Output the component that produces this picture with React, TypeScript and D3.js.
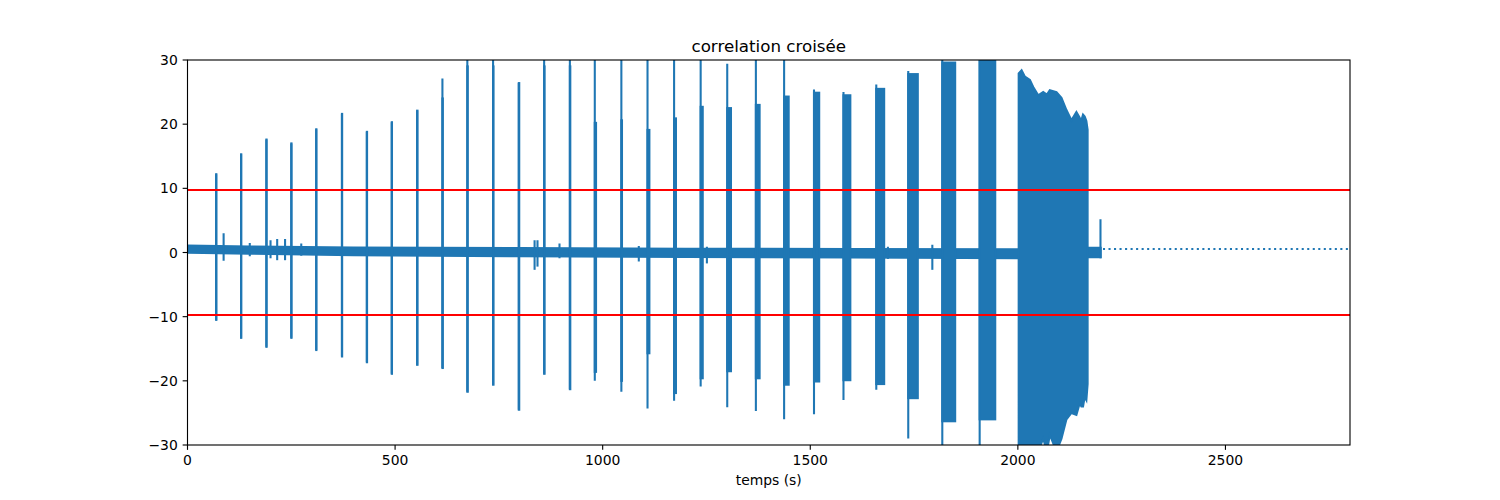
import React, { useEffect, useRef } from 'react';
import * as d3 from 'd3';

// burst events (seconds)
const burstStart = [69, 129, 190, 250, 310, 372, 432, 492, 553, 614, 674, 736, 798, 859, 921,
  981, 1045, 1108, 1172, 1236, 1300, 1369, 1437, 1509, 1580, 1659, 1736, 1818, 1908];
const burstLength = [0.5, 0.5, 0.5, 0.5, 0.5, 0.5, 0.5, 0.5, 1, 1, 1, 1, 1, 1, 1,
  3, 1.5, 4.5, 4.5, 5, 9, 9, 11, 12.5, 16.5, 19, 23, 31, 37.5];
const burstHigh = [12.2, 15.3, 17.6, 17.0, 19.2, 21.6, 18.8, 20.3, 22.1, 27.1, 31, 31, 26.4, 31, 31,
  31, 31, 31, 31, 31, 29.4, 31, 31, 25.4, 25.0, 26.2, 28.3, 31, 31];
const burstLow = [-10.5, -13.3, -14.7, -13.3, -15.2, -16.2, -17.1, -18.9, -17.5, -18.0, -21.7, -20.6, -24.5, -18.9, -21.3,
  -20.0, -21.7, -24.3, -23.1, -20.9, -24.1, -24.7, -26.0, -25.2, -23.0, -21.4, -29.0, -31, -31];
const coreHigh = [12.2, 15.3, 17.6, 17.0, 19.2, 21.6, 18.8, 20.3, 22.1, 24.0, 29.0, 29.0, 26.4, 29.0, 29.0,
  20.2, 20.6, 19.1, 20.9, 22.7, 22.5, 23.0, 24.3, 24.9, 24.5, 25.5, 27.8, 29.6, 31];
const coreLow = [-10.5, -13.3, -14.7, -13.3, -15.2, -16.2, -17.1, -18.9, -17.5, -18.0, -21.7, -20.6, -24.5, -18.9, -21.3,
  -18.6, -20.0, -15.7, -21.9, -19.6, -18.5, -19.6, -20.6, -20.1, -19.9, -20.5, -22.7, -26.3, -26.0];

// dense block near the end
const blockT = [2002, 2009, 2017, 2029, 2037, 2049, 2061, 2070, 2077, 2093, 2105, 2117, 2129, 2141, 2149, 2153, 2157, 2161, 2165, 2168];
const blockHigh = [27.9, 28.4, 27.4, 26.9, 25.8, 24.5, 25.0, 24.6, 25.3, 25.0, 24.1, 22.2, 20.6, 21.9, 21.0, 20.6, 21.5, 21.2, 20.5, 19.1];
const blockLow = [-31, -31, -31, -31, -31, -31, -29, -31, -28.4, -31, -29, -26, -25, -25.3, -23.5, -24, -24, -22.5, -23, -20.5];

// background noise envelope
const baseT = [0, 150, 400, 800, 1200, 1600, 2000, 2170, 2202];
const baseHigh = [1.25, 1.1, 0.95, 0.85, 0.75, 0.7, 0.65, 0.9, 0.9];
const baseLow = [-0.2, -0.35, -0.6, -0.75, -0.85, -0.95, -1.05, -0.9, -0.9];

// small glitches on the noise
const glitchT = [87, 150, 200, 216, 235, 274, 836, 843, 896, 1087, 1251, 1687, 1794, 2199];
const glitchHigh = [3.0, 1.5, 1.9, 2.1, 2.1, 1.4, 1.9, 1.9, 1.4, 1.0, 0.9, 0.9, 1.2, 5.2];
const glitchLow = [-1.3, -0.6, -0.9, -1.2, -1.2, -0.5, -2.7, -2.2, -0.9, -1.4, -1.7, -1.0, -2.7, -0.9];

// dotted tail
const tailT = [2205, 2800];
const tailV = [0.55, 0.55];

const threshold = 9.75;
const xTicks = [0, 500, 1000, 1500, 2000, 2500];
const yTicks = [-30, -20, -10, 0, 10, 20, 30];

const BLUE = '#1f77b4';
const LW = 2.08;

const App: React.FC = () => {
  const svgRef = useRef<SVGSVGElement>(null);

  useEffect(() => {
    if (!svgRef.current) return;
    const svg = d3.select(svgRef.current);
    svg.selectAll('*').remove();

    const left = 187.5, right = 1350, top = 60, bottom = 445;
    const x = d3.scaleLinear().domain([0, 2800]).range([left, right]);
    const y = d3.scaleLinear().domain([-30, 30]).range([bottom, top]);

    svg.append('defs').append('clipPath').attr('id', 'plot-clip')
      .append('rect').attr('x', left).attr('y', top).attr('width', right - left).attr('height', bottom - top);

    const plot = svg.append('g').attr('clip-path', 'url(#plot-clip)');

    // noise band
    const band = baseT.map((t, i) => ({ t, hi: baseHigh[i], lo: baseLow[i] }));
    plot.append('path')
      .datum(band)
      .attr('fill', BLUE)
      .attr('d', d3.area<any>().x(d => x(d.t)).y0(d => y(d.lo)).y1(d => y(d.hi)));

    // glitches
    plot.append('g').selectAll('line')
      .data(glitchT)
      .join('line')
      .attr('x1', d => x(d)).attr('x2', d => x(d))
      .attr('y1', (d, i) => y(glitchHigh[i])).attr('y2', (d, i) => y(glitchLow[i]))
      .attr('stroke', BLUE).attr('stroke-width', LW);

    // bursts: thin tip + body
    const bursts = plot.append('g');
    bursts.selectAll('line')
      .data(burstStart)
      .join('line')
      .attr('x1', d => x(d)).attr('x2', d => x(d))
      .attr('y1', (d, i) => y(burstHigh[i])).attr('y2', (d, i) => y(burstLow[i]))
      .attr('stroke', BLUE).attr('stroke-width', LW);
    bursts.selectAll('rect')
      .data(burstStart)
      .join('rect')
      .attr('x', d => x(d))
      .attr('width', (d, i) => x(d + burstLength[i]) - x(d))
      .attr('y', (d, i) => y(coreHigh[i]))
      .attr('height', (d, i) => y(coreLow[i]) - y(coreHigh[i]))
      .attr('fill', BLUE).attr('stroke', BLUE).attr('stroke-width', LW);

    // dense block
    const block = blockT.map((t, i) => ({ t, hi: blockHigh[i], lo: blockLow[i] }));
    plot.append('path')
      .datum(block)
      .attr('fill', BLUE).attr('stroke', BLUE).attr('stroke-width', LW)
      .attr('d', d3.area<any>().x(d => x(d.t)).y0(d => y(d.lo)).y1(d => y(d.hi)));

    // dotted tail
    plot.append('path')
      .datum(tailT.map((t, i) => [t, tailV[i]] as [number, number]))
      .attr('fill', 'none').attr('stroke', BLUE).attr('stroke-width', LW)
      .attr('stroke-dasharray', '2.08,3.44')
      .attr('d', d3.line().x(d => x(d[0])).y(d => y(d[1])));

    // thresholds
    plot.append('g').selectAll('line')
      .data([threshold, -threshold])
      .join('line')
      .attr('x1', left).attr('x2', right)
      .attr('y1', d => y(d)).attr('y2', d => y(d))
      .attr('stroke', 'red').attr('stroke-width', LW);

    // frame
    svg.append('rect')
      .attr('x', left).attr('y', top).attr('width', right - left).attr('height', bottom - top)
      .attr('fill', 'none').attr('stroke', 'black').attr('stroke-width', 1.11);

    const font = 'DejaVu Sans';
    const fmt = d3.format('d');

    const xa = svg.append('g');
    xa.selectAll('line').data(xTicks).join('line')
      .attr('x1', d => x(d)).attr('x2', d => x(d))
      .attr('y1', bottom).attr('y2', bottom + 4.86)
      .attr('stroke', 'black').attr('stroke-width', 1.11);
    xa.selectAll('text').data(xTicks).join('text')
      .attr('x', d => x(d)).attr('y', 465)
      .attr('text-anchor', 'middle')
      .attr('font-family', font).attr('font-size', 13.9)
      .text(d => fmt(d));

    const ya = svg.append('g');
    ya.selectAll('line').data(yTicks).join('line')
      .attr('x1', left - 4.86).attr('x2', left)
      .attr('y1', d => y(d)).attr('y2', d => y(d))
      .attr('stroke', 'black').attr('stroke-width', 1.11);
    ya.selectAll('text').data(yTicks).join('text')
      .attr('x', left - 9.7).attr('y', d => y(d) + 5)
      .attr('text-anchor', 'end')
      .attr('font-family', font).attr('font-size', 13.9)
      .text(d => fmt(d));

    svg.append('text')
      .attr('x', (left + right) / 2).attr('y', 485)
      .attr('text-anchor', 'middle')
      .attr('font-family', font).attr('font-size', 13.9)
      .text('temps (s)');

    svg.append('text')
      .attr('x', (left + right) / 2).attr('y', 51.7)
      .attr('text-anchor', 'middle')
      .attr('font-family', font).attr('font-size', 16.7)
      .text('correlation croisée');
  }, []);

  return (
    <svg ref={svgRef} width={1500} height={500}
      style={{ position: 'absolute', left: 0, top: 0, background: 'white' }} />
  );
};

export default App;
